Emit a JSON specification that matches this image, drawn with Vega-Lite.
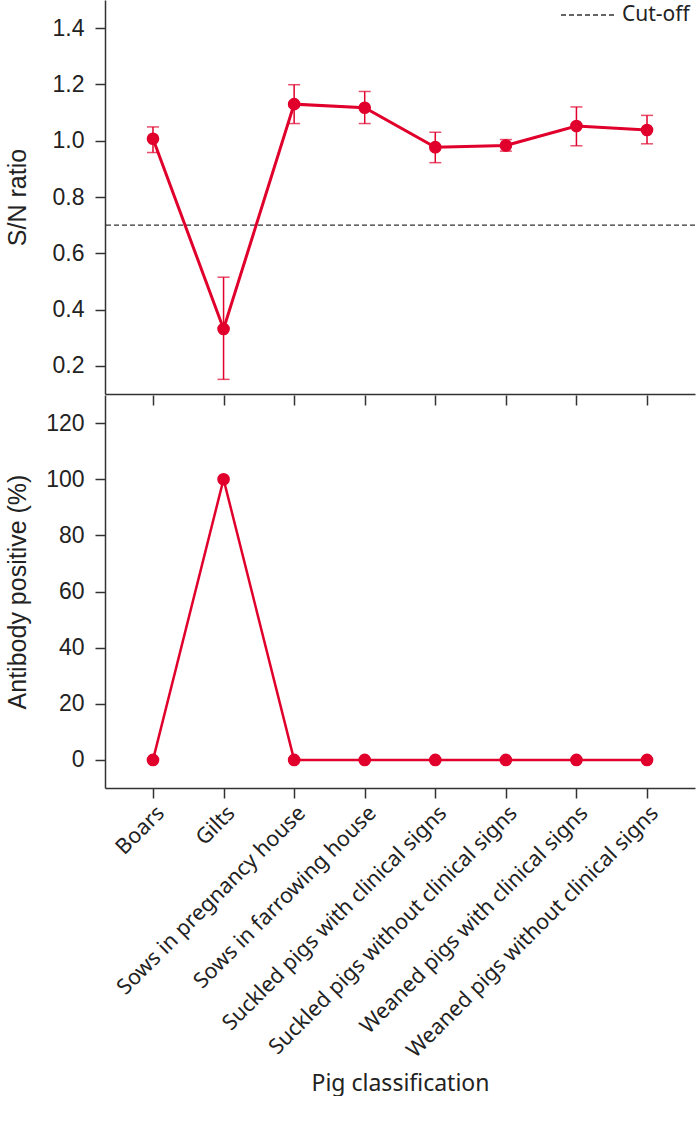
{
  "$schema": "https://vega.github.io/schema/vega-lite/v6.json",
  "padding": {"left": 5, "top": 0, "right": 0, "bottom": 0},
  "spacing": 0,
  "background": "white",
  "config": {
    "view": {"stroke": null},
    "axis": {
      "grid": false,
      "domainColor": "#333333",
      "tickColor": "#333333",
      "domainWidth": 1.5,
      "tickWidth": 1.5,
      "tickSize": 10,
      "labelColor": "#222222",
      "titleColor": "#222222",
      "titleFontWeight": "normal"
    },
    "axisY": {
      "labelFont": "Liberation Sans",
      "labelFontSize": 23,
      "labelPadding": 11,
      "titleFont": "Liberation Sans",
      "titleFontSize": 25,
      "titlePadding": 14,
      "minExtent": 61,
      "maxExtent": 61
    },
    "axisX": {
      "labelFont": "Noto Sans",
      "labelFontSize": 21.5,
      "labelLimit": 0,
      "titleFont": "Noto Sans",
      "titleFontSize": 23,
      "maxExtent": 320
    }
  },
  "datasets": {
    "pigs": [
      {"group": "Boars", "sn": 1.007, "sn_lo": 0.958, "sn_hi": 1.049, "pos": 0},
      {"group": "Gilts", "sn": 0.331, "sn_lo": 0.152, "sn_hi": 0.515, "pos": 100},
      {"group": "Sows in pregnancy house", "sn": 1.13, "sn_lo": 1.061, "sn_hi": 1.199, "pos": 0},
      {"group": "Sows in farrowing house", "sn": 1.117, "sn_lo": 1.061, "sn_hi": 1.175, "pos": 0},
      {"group": "Suckled pigs with clinical signs", "sn": 0.977, "sn_lo": 0.922, "sn_hi": 1.03, "pos": 0},
      {"group": "Suckled pigs without clinical signs", "sn": 0.983, "sn_lo": 0.963, "sn_hi": 1.004, "pos": 0},
      {"group": "Weaned pigs with clinical signs", "sn": 1.052, "sn_lo": 0.982, "sn_hi": 1.12, "pos": 0},
      {"group": "Weaned pigs without clinical signs", "sn": 1.038, "sn_lo": 0.989, "sn_hi": 1.09, "pos": 0}
    ]
  },
  "vconcat": [
    {
      "width": 590,
      "height": 394,
      "data": {"name": "pigs"},
      "encoding": {
        "x": {
          "field": "group",
          "type": "nominal",
          "sort": null,
          "scale": {"type": "point", "padding": 0.68},
          "axis": {"labels": false, "title": null, "domain": true, "ticks": false}
        }
      },
      "layer": [
        {
          "data": {"values": [{"cutoff": 0.7, "label": "Cut-off"}]},
          "mark": {"type": "rule", "color": "#333333", "strokeWidth": 1.3},
          "encoding": {
            "x": null,
            "y": {"field": "cutoff", "type": "quantitative", "title": "S/N ratio"},
            "strokeDash": {
              "field": "label",
              "type": "nominal",
              "scale": {"range": [[5, 3]]},
              "legend": {
                "title": null,
                "orient": "none",
                "legendX": 455,
                "legendY": 5,
                "padding": 0,
                "clipHeight": 20,
                "symbolType": "stroke",
                "symbolSize": 3025,
                "symbolStrokeWidth": 1.3,
                "symbolStrokeColor": "#333333",
                "labelFont": "Noto Sans",
                "labelFontSize": 21,
                "labelColor": "#222222",
                "labelOffset": 5
              }
            }
          }
        },
        {
          "mark": {"type": "errorbar", "color": "#e0002b", "thickness": 1.5, "ticks": {"size": 12, "thickness": 1.5}},
          "encoding": {
            "y": {"field": "sn_lo", "type": "quantitative", "title": "S/N ratio"},
            "y2": {"field": "sn_hi"}
          }
        },
        {
          "mark": {"type": "line", "color": "#e0002b", "strokeWidth": 3},
          "encoding": {
            "y": {
              "field": "sn",
              "type": "quantitative",
              "title": "S/N ratio",
              "scale": {"domain": [0.1, 1.5], "nice": false, "zero": false},
              "axis": {
                "values": [0.2, 0.4, 0.6, 0.8, 1.0, 1.2, 1.4],
                "format": ".1f"
              }
            }
          }
        },
        {
          "mark": {"type": "point", "filled": true, "size": 160, "color": "#e0002b", "opacity": 1},
          "encoding": {
            "y": {"field": "sn", "type": "quantitative", "title": "S/N ratio"}
          }
        }
      ]
    },
    {
      "width": 590,
      "height": 393,
      "data": {"name": "pigs"},
      "encoding": {
        "y": {
          "field": "pos",
          "type": "quantitative",
          "title": "Antibody positive (%)",
          "scale": {"domain": [-10, 130], "nice": false, "zero": false},
          "axis": {
            "values": [0, 20, 40, 60, 80, 100, 120]
          }
        }
      },
      "layer": [
        {
          "mark": {"type": "line", "color": "#e0002b", "strokeWidth": 2.5},
          "encoding": {
            "x": {
              "field": "group",
              "type": "nominal",
              "sort": null,
              "scale": {"type": "point", "padding": 0.68},
              "axis": {
                "orient": "bottom",
                "title": "Pig classification",
                "labelAngle": -45,
                "labelPadding": 4,
                "titlePadding": 11
              }
            }
          }
        },
        {
          "mark": {"type": "point", "filled": true, "size": 160, "color": "#e0002b", "opacity": 1},
          "encoding": {
            "x": {
              "field": "group",
              "type": "nominal",
              "sort": null,
              "axis": {
                "orient": "top",
                "title": null,
                "labels": false,
                "domain": false,
                "ticks": true,
                "tickSize": -10
              }
            }
          }
        }
      ],
      "resolve": {"axis": {"x": "independent"}}
    }
  ]
}
